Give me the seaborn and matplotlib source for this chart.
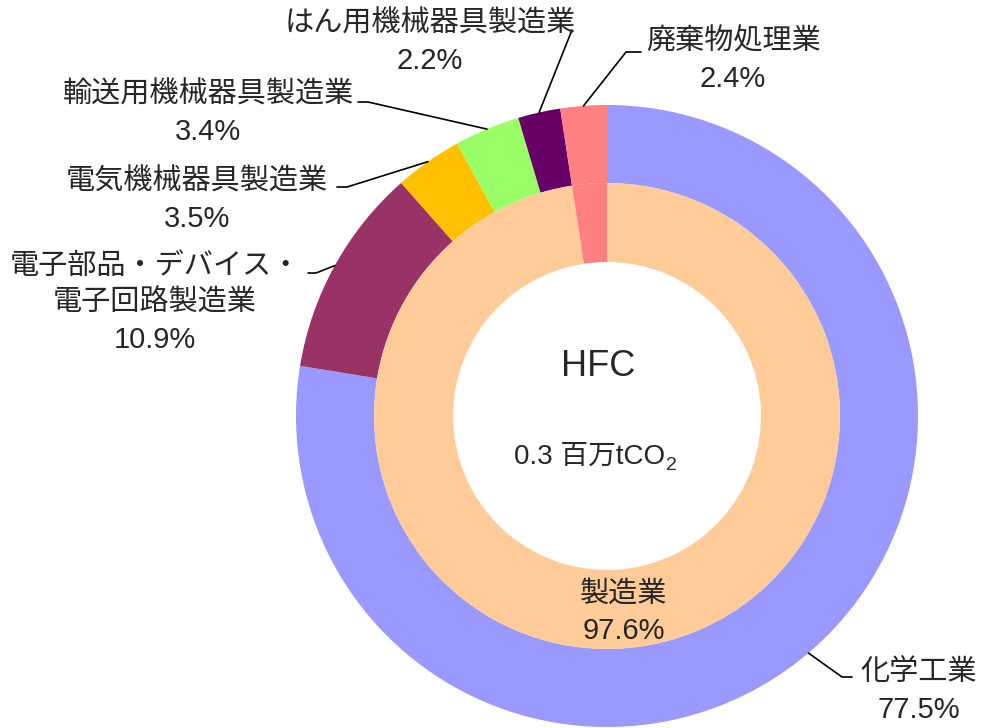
import numpy as np
import seaborn as sns
import matplotlib.pyplot as plt

# 外側: 業種別の内訳 (%)
sectors = ["化学工業", "電子部品・デバイス・\n電子回路製造業", "電気機械器具製造業",
           "輸送用機械器具製造業", "はん用機械器具製造業", "廃棄物処理業"]
shares = [77.5, 10.9, 3.5, 3.4, 2.2, 2.4]
sector_colors = ["#9999FF", "#993366", "#FFC000", "#99FF66", "#660066", "#FF8080"]

# 内側: 部門別 (%)
groups = ["製造業", "廃棄物処理業"]
group_shares = [97.6, 2.4]
group_colors = ["#FFCC99", "#FF8080"]

gas = "HFC"
total = 0.3

sns.set_theme(style="white")
plt.rcParams['font.family'] = ['Liberation Sans', 'Noto Sans CJK JP']

W, H = 982, 728
CX, CY, R = 607, 416, 311
fig = plt.figure(figsize=(W / 100, H / 100), dpi=100)
ax = fig.add_axes([(CX - R) / W, (H - CY - R) / H, 2 * R / W, 2 * R / H])

def px(x, y):
    # ピクセル座標 -> データ座標
    return (x - CX) / R, (CY - y) / R

outer, _ = ax.pie(shares, colors=sector_colors, radius=1.0, startangle=90,
                  counterclock=False, wedgeprops=dict(width=0.251, linewidth=0))
inner, _ = ax.pie(group_shares, colors=group_colors, radius=0.749, startangle=90,
                  counterclock=False, wedgeprops=dict(width=0.254, linewidth=0))
ax.set_xlim(-1, 1)
ax.set_ylim(-1, 1)
ax.axis('off')

# ラベル位置と引出線
label_pos = [(919, 691), (155, 303), (197, 200), (208, 113), (430, 42), (733, 60)]
leader_pts = [[(852, 677), (842, 677)],
              [(308, 273), (316, 273)],
              [(337, 187), (347, 187)],
              [(358, 102), (368, 102)],
              [(572, 30)],
              [(641, 52), (626, 52)]]

fs = 21
ls = 1.42
for w, name, val, lp, pts in zip(outer, sectors, shares, label_pos, leader_pts):
    mid = np.deg2rad((w.theta1 + w.theta2) / 2)
    ax_x, ax_y = np.cos(mid), np.sin(mid)
    xs = [px(*p)[0] for p in pts] + [ax_x]
    ys = [px(*p)[1] for p in pts] + [ax_y]
    ax.plot(xs, ys, color='black', lw=1.2, clip_on=False)
    tx, ty = px(*lp)
    ax.text(tx, ty, f"{name}\n{val}%", ha='center', va='center', fontsize=fs,
            linespacing=ls, clip_on=False)

tx, ty = px(624, 612)
ax.text(tx, ty, f"{groups[0]}\n{group_shares[0]}%", ha='center', va='center',
        fontsize=fs, linespacing=ls)

tx, ty = px(598, 366)
ax.text(tx, ty, gas, ha='center', va='center', fontsize=26)

# 中央の総量 (CO2 の 2 は下付き)
tx, ty = px(590, 457)
main = ax.text(tx, ty, f"{total} 百万tCO", ha='center', va='center', fontsize=20)
fig.canvas.draw()
bb = main.get_window_extent().transformed(ax.transData.inverted())
ax.text(bb.x1 + 0.003, bb.y0 - 0.012, "2", ha='left', va='bottom', fontsize=14)

fig.savefig("out.png", dpi=100)
